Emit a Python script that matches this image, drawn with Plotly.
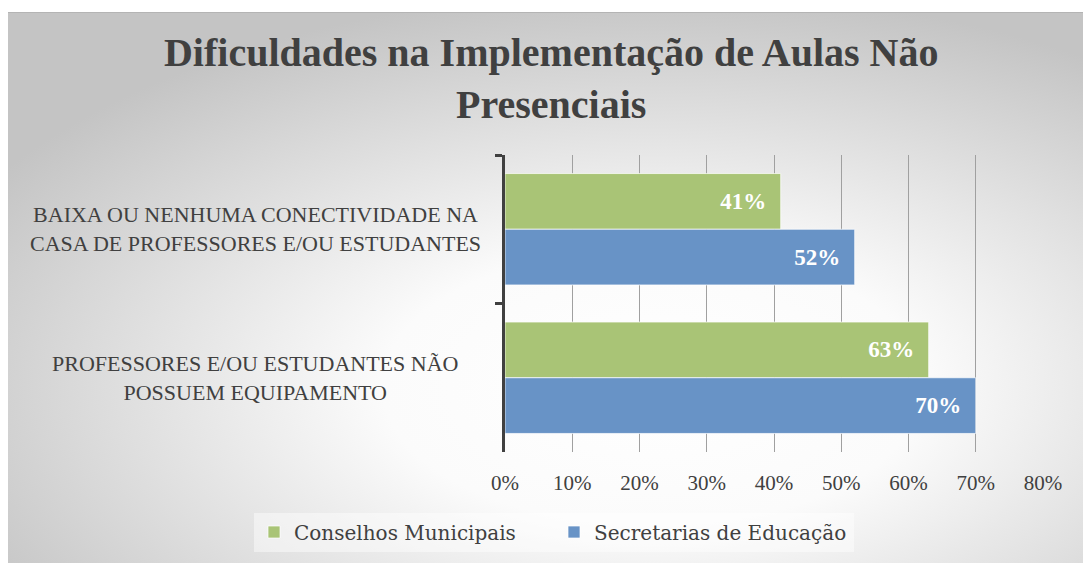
"""Build a Plotly figure of the difficulties reported in remote-teaching rollout.

Two respondent groups (municipal councils and education secretariats) are
shown as grouped horizontal bars per difficulty. The Office-style radial grey
background is drawn as an inline SVG layout image, so no file is needed.
"""

import base64

import plotly.graph_objects as go

# Difficulty categories, top to bottom (the y axis is reversed below).
CATEGORIES = [
    "BAIXA OU NENHUMA CONECTIVIDADE NA<br>CASA DE PROFESSORES E/OU ESTUDANTES",
    "PROFESSORES E/OU ESTUDANTES NÃO<br>POSSUEM EQUIPAMENTO",
]
CONSELHOS = [0.41, 0.63]
SECRETARIAS = [0.52, 0.70]
X_TICKS = [0, 0.1, 0.2, 0.3, 0.4, 0.5, 0.6, 0.7, 0.8]

# (values, display name, colour) per series. First one sits on top in a group.
_SERIES = [
    (CONSELHOS, "Conselhos Municipais", "#a9c476"),
    (SECRETARIAS, "Secretarias de Educação", "#6893c6"),
]

_W, _H = 1083, 563
_MARGIN = dict(l=505, r=40, t=155, b=111)
_FONT = "Liberation Serif"
_LEGEND_FONT = "DejaVu Serif"  # wider lowercase, closer to the original face
_TEXT_GREY = "#404040"


def _background_uri() -> str:
    """Radial white-to-grey fill inside a thin frame, as a base64 SVG data URI."""
    svg = (
        f'<svg xmlns="http://www.w3.org/2000/svg" width="{_W}" height="{_H}">'
        '<defs><radialGradient id="g" cx="0.6" cy="0.68" r="0.72">'
        '<stop offset="0" stop-color="#ffffff"/>'
        '<stop offset="0.35" stop-color="#fbfbfb"/>'
        '<stop offset="1" stop-color="#c4c4c4"/>'
        "</radialGradient></defs>"
        f'<rect width="{_W}" height="{_H}" fill="#ffffff"/>'
        f'<rect x="8" y="12" width="{_W - 8}" height="{_H - 12}" fill="url(#g)"/>'
        f'<line x1="8" y1="12.5" x2="{_W}" y2="12.5" stroke="#b4b4b4" stroke-width="1"/>'
        "</svg>"
    )
    return "data:image/svg+xml;base64," + base64.b64encode(svg.encode()).decode()


def _figure() -> go.Figure:
    fig = go.Figure()
    for values, name, colour in _SERIES:
        fig.add_trace(go.Bar(
            y=CATEGORIES, x=values, name=name, orientation="h",
            marker=dict(color=colour, line=dict(color="rgba(255,255,255,0.7)", width=1)),
            texttemplate="%{x:.0%}\u00a0\u00a0", textposition="inside",
            insidetextanchor="end",
            textfont=dict(family=_FONT, size=23, color="white", weight="bold"),
            hoverinfo="skip",
        ))

    # Category labels as centred annotations (tick labels would be right-aligned).
    plot_w = _W - _MARGIN["l"] - _MARGIN["r"]
    plot_h = _H - _MARGIN["t"] - _MARGIN["b"]
    for cat in CATEGORIES:
        fig.add_annotation(
            x=-250 / plot_w, xref="paper", y=cat, yref="y", text=cat,
            showarrow=False, align="center", xanchor="center",
            font=dict(family=_FONT, size=22, color=_TEXT_GREY),
        )

    fig.add_layout_image(
        source=_background_uri(), xref="paper", yref="paper",
        x=-_MARGIN["l"] / plot_w, y=1 + _MARGIN["t"] / plot_h,
        sizex=_W / plot_w, sizey=_H / plot_h,
        sizing="stretch", xanchor="left", yanchor="top", layer="below",
    )

    fig.update_layout(
        width=_W, height=_H,
        title=dict(
            text="Dificuldades na Implementação de Aulas Não<br>Presenciais",
            x=0.509, xanchor="center", y=0.882, yanchor="middle",
            font=dict(family=_FONT, size=40, color=_TEXT_GREY, weight="bold"),
        ),
        barmode="group", bargap=0.25, bargroupgap=0,
        paper_bgcolor="white", plot_bgcolor="rgba(0,0,0,0)",
        margin=_MARGIN,
        showlegend=True,
        # Left of and below the plot area, so plotly lets the row run wider
        # than the plot itself instead of wrapping it.
        legend=dict(
            orientation="h", xref="paper", yref="paper",
            x=-251 / plot_w, xanchor="left", y=-80 / plot_h, yanchor="middle",
            bgcolor="rgba(255,255,255,0.45)", entrywidth=255,
            font=dict(family=_LEGEND_FONT, size=20, color=_TEXT_GREY),
        ),
        font=dict(family=_FONT, color=_TEXT_GREY),
    )
    fig.update_xaxes(
        range=[0, 0.8], tickvals=X_TICKS, tickformat=".0%",
        showgrid=True, gridcolor="#a0a0a0", gridwidth=1, zeroline=False,
        showline=False, layer="above traces", ticklabelstandoff=16,
        tickfont=dict(family=_FONT, size=21, color=_TEXT_GREY),
    )
    fig.update_yaxes(
        autorange="reversed", showticklabels=False, showgrid=False,
        showline=True, linecolor=_TEXT_GREY, linewidth=3,
        ticks="outside", tickson="boundaries", ticklen=7, tickwidth=3,
        tickcolor=_TEXT_GREY,
    )
    return fig


fig = _figure()
# The page body has an 8px default margin; drop it so the chart fills the window.
fig.write_html(
    "out.html",
    config={"displayModeBar": False},
    post_script="document.body.style.margin = '0';",
)
